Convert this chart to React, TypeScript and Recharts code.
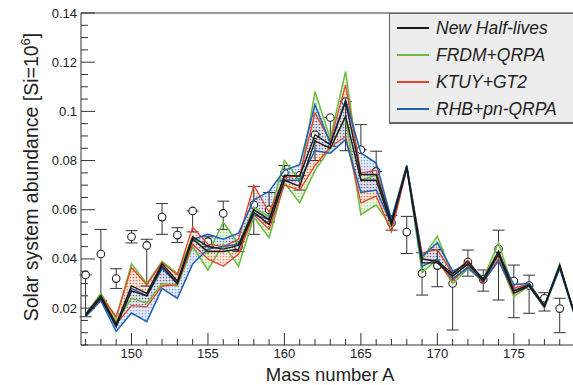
import { ComposedChart, Line, Area, Scatter, ErrorBar, XAxis, YAxis, ReferenceLine } from 'recharts';

// mass numbers
const massA = [147,148,149,150,151,152,153,154,155,156,157,158,159,160,161,162,163,164,165,166,167,168,169,170,171,172,173,174,175,176,177,178,179];

const blackLo = [0.017,0.024,0.0125,0.027,0.025,0.037,0.030,0.048,0.043,0.043,0.044,0.059,0.054,0.072,0.0695,0.088,0.085,0.098,0.072,0.072,0.054,0.077,0.0384,0.0384,0.033,0.038,0.031,0.042,0.026,0.029,0.0206,0.037,0.0168];
const blackHi = [0.0175,0.025,0.0135,0.029,0.026,0.038,0.031,0.049,0.045,0.044,0.0455,0.060,0.056,0.074,0.0736,0.0905,0.0865,0.104,0.0743,0.0743,0.055,0.0775,0.040,0.039,0.034,0.039,0.0317,0.0432,0.027,0.0295,0.021,0.0375,0.017];
const greenLo = [0.017,0.0245,0.0145,0.024,0.022,0.030,0.029,0.045,0.0355,0.046,0.037,0.057,0.0486,0.071,0.0628,0.076,0.085,0.0974,0.058,0.062,0.053,0.0775,0.0344,0.040,0.030,0.036,0.031,0.040,0.0247,0.029,0.020,0.037,0.0165];
const greenHi = [0.0175,0.026,0.016,0.038,0.030,0.039,0.034,0.049,0.042,0.055,0.046,0.061,0.057,0.080,0.072,0.108,0.089,0.1162,0.072,0.074,0.056,0.078,0.040,0.0493,0.033,0.038,0.032,0.0466,0.027,0.030,0.0212,0.038,0.017];
const redLo = [0.0168,0.024,0.0135,0.021,0.0205,0.029,0.0295,0.046,0.040,0.037,0.042,0.058,0.052,0.070,0.068,0.078,0.0855,0.0898,0.0628,0.0655,0.051,0.0765,0.040,0.039,0.031,0.037,0.0303,0.040,0.026,0.029,0.0205,0.0365,0.0166];
const redHi = [0.0172,0.025,0.0165,0.0365,0.0295,0.0385,0.0335,0.053,0.046,0.045,0.048,0.070,0.059,0.073,0.074,0.0993,0.088,0.1108,0.075,0.076,0.055,0.0775,0.0425,0.0438,0.034,0.0395,0.031,0.0418,0.028,0.030,0.021,0.037,0.017];
const blueLo = [0.0165,0.023,0.0105,0.018,0.0145,0.028,0.024,0.038,0.044,0.045,0.046,0.058,0.056,0.072,0.072,0.084,0.083,0.0885,0.067,0.068,0.054,0.077,0.037,0.040,0.032,0.0364,0.031,0.0391,0.027,0.029,0.0205,0.036,0.0166];
const blueHi = [0.0172,0.0245,0.0125,0.028,0.025,0.036,0.030,0.048,0.050,0.048,0.0505,0.064,0.0675,0.076,0.0783,0.1027,0.087,0.1047,0.0831,0.079,0.056,0.078,0.041,0.0466,0.035,0.038,0.032,0.042,0.0296,0.030,0.021,0.037,0.017];

// observed solar abundances with error bounds
const obsA = [147,148,149,150,151,152,153,154,155,156,157,158,159,160,161,162,163,164,165,166,167,168,169,170,171,172,173,174,175,176,177,178];
const obsV = [0.0335,0.042,0.032,0.049,0.0455,0.057,0.0497,0.0595,0.047,0.0585,0.045,0.062,0.060,0.075,0.074,0.0905,0.0975,0.104,0.0844,0.0756,0.0547,0.0509,0.0341,0.0373,0.030,0.0387,0.0317,0.044,0.031,0.0292,0.024,0.0198];
const obsLow = [0.0165,0.023,0.028,0.0465,0.029,0.050,0.0467,0.051,0.045,0.052,0.043,0.050,0.055,0.072,0.068,0.080,0.0858,0.084,0.0844,0.0756,0.0517,0.0422,0.0253,0.0287,0.0111,0.033,0.0269,0.0233,0.0161,0.0179,0.0188,0.010];
const obsHigh = [0.0335,0.052,0.036,0.0515,0.048,0.0625,0.0527,0.0595,0.049,0.0635,0.047,0.0695,0.067,0.078,0.074,0.0905,0.0975,0.104,0.0946,0.0838,0.0577,0.0573,0.0425,0.0438,0.0344,0.0436,0.0355,0.0517,0.0375,0.0334,0.0263,0.024];

const xTicks = massA;
const yTicks = Array.from({ length: 28 }, (_, i) => Math.round((i + 1) * 5) / 1000);

const legendItems = [
  { label: 'New Half-lives', color: '#1a1a1a' },
  { label: 'FRDM+QRPA', color: '#6dbb3f' },
  { label: 'KTUY+GT2', color: '#e8432a' },
  { label: 'RHB+pn-QRPA', color: '#1f5fb4' },
];

const table = massA.map((a, i) => ({
  A: a,
  bLo: blackLo[i], bHi: blackHi[i],
  gLo: greenLo[i], gHi: greenHi[i],
  rLo: redLo[i], rHi: redHi[i],
  uLo: blueLo[i], uHi: blueHi[i],
  green: [greenLo[i], greenHi[i]],
  red: [redLo[i], redHi[i]],
  blue: [blueLo[i], blueHi[i]],
}));

const obsData = obsA.map((a, i) => ({ A: a, v: obsV[i], err: [obsV[i] - obsLow[i], obsHigh[i] - obsV[i]] }));

const FONT = '"Liberation Sans", Arial, sans-serif';

const XTick = (p: any) => {
  const v = p.payload.value;
  const major = v % 5 === 0;
  return (
    <g>
      <line x1={p.x} x2={p.x} y1={p.y} y2={p.y - (major ? 12 : 6)} stroke="#333" />
      {major && <text x={p.x} y={p.y + 13} textAnchor="middle" fontSize={13} fontFamily={FONT} fill="#222">{v}</text>}
    </g>
  );
};

const YTick = (p: any) => {
  const v = p.payload.value;
  const major = Math.round(v * 1000) % 20 === 0;
  return (
    <g>
      <line x1={p.x} x2={p.x + (major ? 14 : 7)} y1={p.y} y2={p.y} stroke="#333" />
      {major && <text x={p.x - 4} y={p.y + 4.5} textAnchor="end" fontSize={13} fontFamily={FONT} fill="#222">{String(Math.round(v * 100) / 100)}</text>}
    </g>
  );
};

const YLabel = () => (
  <text transform="translate(38,177) rotate(-90)" textAnchor="middle" fontSize={19.5} fontFamily={FONT} fill="#222">
    Solar system abundance [Si=10<tspan dy={-8} fontSize={13}>6</tspan><tspan dy={8}>]</tspan>
  </text>
);

const XLabel = () => (
  <text x={330} y={381} textAnchor="middle" fontSize={18.5} fontFamily={FONT} fill="#222">Mass number A</text>
);

const dots = (id: string, bg: string, dot: string) => (
  <pattern id={id} width="3" height="3" patternUnits="userSpaceOnUse">
    <rect width="3" height="3" fill={bg} />
    <circle cx="1.5" cy="1.5" r="0.85" fill={dot} />
  </pattern>
);

export default function App() {
  // draw the observations above the filled bands but under the model lines
  const scatterProps: any = { zIndex: 300 };
  const errProps: any = { zIndex: 250 };
  return (
    <div style={{ position: 'absolute', left: 0, top: 0, width: 573, height: 385, overflow: 'hidden', background: '#fff' }}>
      <ComposedChart width={582} height={385} data={table} margin={{ top: 13, right: 7, left: 0, bottom: 0 }}>
        <defs>
          {dots('dotG', '#e6f2dc', '#6dbb3f')}
          {dots('dotR', '#f9ddd4', '#e8432a')}
          {dots('dotB', '#d6e1f3', '#3467bd')}
        </defs>
        <XAxis dataKey="A" type="number" domain={[146.7, 179]} allowDataOverflow ticks={xTicks} interval={0}
          tickSize={0} tickMargin={0} tick={<XTick />} height={40} stroke="#333" label={<XLabel />} />
        <YAxis type="number" domain={[0.005, 0.14]} allowDataOverflow ticks={yTicks} interval={0}
          tickSize={0} tickMargin={0} tick={<YTick />} width={81} stroke="#333" label={<YLabel />} />
        <ReferenceLine y={0.14} stroke="#333" />
        <Scatter data={obsData} dataKey="v" isAnimationActive={false} {...scatterProps}
          shape={(p: any) => <circle cx={p.cx} cy={p.cy} r={3.8} fill="#fff" stroke="#222" strokeWidth={1.1} />}>
          <ErrorBar dataKey="err" direction="y" width={6} stroke="#333" strokeWidth={1} {...errProps} />
        </Scatter>
        <Area dataKey="green" type="linear" stroke="none" fill="url(#dotG)" isAnimationActive={false} activeDot={false} />
        <Area dataKey="red" type="linear" stroke="none" fill="url(#dotR)" isAnimationActive={false} activeDot={false} />
        <Area dataKey="blue" type="linear" stroke="none" fill="url(#dotB)" isAnimationActive={false} activeDot={false} />
        <Line dataKey="gLo" type="linear" stroke="#6dbb3f" strokeWidth={1.5} dot={false} isAnimationActive={false} />
        <Line dataKey="gHi" type="linear" stroke="#6dbb3f" strokeWidth={1.5} dot={false} isAnimationActive={false} />
        <Line dataKey="rLo" type="linear" stroke="#e8432a" strokeWidth={1.3} dot={false} isAnimationActive={false} />
        <Line dataKey="rHi" type="linear" stroke="#e8432a" strokeWidth={1.3} dot={false} isAnimationActive={false} />
        <Line dataKey="uLo" type="linear" stroke="#1f5fb4" strokeWidth={1.5} dot={false} isAnimationActive={false} />
        <Line dataKey="uHi" type="linear" stroke="#1f5fb4" strokeWidth={1.5} dot={false} isAnimationActive={false} />
        <Line dataKey="bLo" type="linear" stroke="#1a1a1a" strokeWidth={1.4} dot={false} isAnimationActive={false} />
        <Line dataKey="bHi" type="linear" stroke="#1a1a1a" strokeWidth={1.4} dot={false} isAnimationActive={false} />
      </ComposedChart>
      <div style={{ position: 'absolute', left: 389, top: 13, width: 200, height: 108, background: '#ededed', border: '1px solid #666', borderBottomWidth: 2, fontFamily: FONT }}>
        {legendItems.map((it, i) => (
          <div key={i} style={{ position: 'absolute', left: 0, top: 4 + i * 27, height: 20, display: 'flex', alignItems: 'center' }}>
            <span style={{ display: 'inline-block', marginLeft: 7, width: 32, height: 1.5, background: it.color }} />
            <span style={{ marginLeft: 7, fontSize: 17.5, fontStyle: 'italic', color: '#222', whiteSpace: 'nowrap' }}>{it.label}</span>
          </div>
        ))}
      </div>
    </div>
  );
}
